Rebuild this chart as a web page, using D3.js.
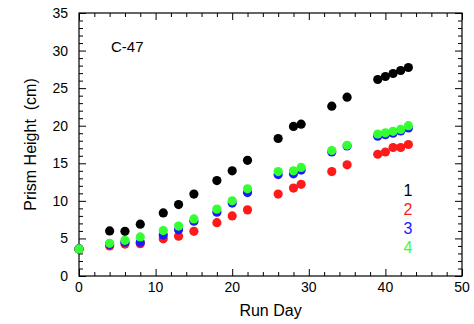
<!DOCTYPE html>
<html>
<head>
<meta charset="utf-8">
<script src="https://cdn.jsdelivr.net/npm/d3@7"></script>
<style>
  html, body { margin: 0; padding: 0; background: #fff; }
  svg { display: block; font-family: "Liberation Sans", Arial, sans-serif; }
</style>
</head>
<body>
<svg id="chart" width="474" height="324"></svg>
<script>
// Run days on which prism height was measured
const runDays = [0, 4, 6, 8, 11, 13, 15, 18, 20, 22, 26, 28, 29, 33, 35, 39, 40, 41, 42, 43];

// Prism height (cm) for prisms 1-4
const prism1 = [3.6, 6.0, 5.95, 6.9, 8.4, 9.5, 10.9, 12.7, 14.0, 15.4, 18.3, 19.9, 20.2, 22.6, 23.8, 26.15, 26.55, 26.95, 27.35, 27.75];
const prism2 = [3.6, 4.0, 4.25, 4.3, 4.95, 5.3, 5.95, 7.1, 8.0, 8.8, 10.9, 11.7, 12.2, 13.9, 14.8, 16.2, 16.5, 17.1, 17.1, 17.5];
const prism3 = [3.6, 4.2, 4.5, 4.5, 5.45, 6.15, 7.3, 8.5, 9.7, 11.1, 13.5, 13.6, 14.1, 16.5, 17.3, 18.6, 18.8, 19.0, 19.3, 19.7];
const prism4 = [3.6, 4.35, 4.75, 5.2, 6.05, 6.65, 7.6, 8.9, 10.0, 11.6, 13.9, 14.0, 14.45, 16.7, 17.4, 18.9, 19.05, 19.25, 19.5, 20.0];

const seriesNames = ["1", "2", "3", "4"];
const seriesColors = ["#000000", "#ff1a1a", "#1a1aff", "#33ff33"];
const seriesValues = [prism1, prism2, prism3, prism4];

const xTicks = [0, 10, 20, 30, 40, 50];
const yTicks = [0, 5, 10, 15, 20, 25, 30, 35];

const svg = d3.select("#chart");
const plotLeft = 79, plotRight = 462, plotTop = 13, plotBottom = 276;

const x = d3.scaleLinear().domain([0, 50]).range([plotLeft, plotRight]);
const y = d3.scaleLinear().domain([0, 35]).range([plotBottom, plotTop]);

const xMinor = d3.range(0, 51, 2);
const yMinor = d3.range(0, 36, 1);

// Inward ticks on all four sides of the frame
function tickAxis(axisFn, scale, minorVals, majorVals, translate) {
  const gMinor = svg.append("g").attr("transform", translate)
    .call(axisFn(scale).tickValues(minorVals.filter(v => !majorVals.includes(v))).tickSize(-4).tickFormat(""));
  const gMajor = svg.append("g").attr("transform", translate)
    .call(axisFn(scale).tickValues(majorVals).tickSize(-7).tickFormat(""));
  [gMinor, gMajor].forEach(g => {
    g.select(".domain").remove();
    g.selectAll("line").attr("stroke", "#000").attr("stroke-width", 1);
  });
}

tickAxis(d3.axisBottom, x, xMinor, xTicks, `translate(0,${plotBottom})`);
tickAxis(d3.axisTop, x, xMinor, xTicks, `translate(0,${plotTop})`);
tickAxis(d3.axisLeft, y, yMinor, yTicks, `translate(${plotLeft},0)`);
tickAxis(d3.axisRight, y, yMinor, yTicks, `translate(${plotRight},0)`);

// Frame
svg.append("rect")
  .attr("x", plotLeft).attr("y", plotTop)
  .attr("width", plotRight - plotLeft).attr("height", plotBottom - plotTop)
  .attr("fill", "none").attr("stroke", "#000").attr("stroke-width", 1.2);

// Tick labels
svg.append("g").selectAll("text").data(xTicks).join("text")
  .attr("x", d => x(d)).attr("y", plotBottom + 16)
  .attr("text-anchor", "middle").attr("font-size", 14).attr("fill", "#000")
  .text(d => d);

svg.append("g").selectAll("text").data(yTicks).join("text")
  .attr("x", plotLeft - 11).attr("y", d => y(d) + 5)
  .attr("text-anchor", "end").attr("font-size", 14).attr("fill", "#000")
  .text(d => d);

// Axis titles
svg.append("text")
  .attr("x", (plotLeft + plotRight) / 2).attr("y", 316)
  .attr("text-anchor", "middle").attr("font-size", 16).attr("fill", "#000")
  .text("Run Day");

svg.append("text")
  .attr("transform", `translate(36,${(plotTop + plotBottom) / 2}) rotate(-90)`)
  .attr("text-anchor", "middle").attr("font-size", 16).attr("fill", "#000")
  .style("white-space", "pre")
  .text("Prism Height  (cm)");

// Sample label
svg.append("text")
  .attr("x", 111).attr("y", 52)
  .attr("font-size", 15).attr("fill", "#000")
  .text("C-47");

// Data points, prism 1 drawn first and prism 4 last
seriesValues.forEach((vals, i) => {
  svg.append("g").selectAll("circle").data(runDays.map((d, j) => [d, vals[j]])).join("circle")
    .attr("cx", d => x(d[0])).attr("cy", d => y(d[1]))
    .attr("r", 4.6).attr("fill", seriesColors[i]);
});

// Legend
svg.append("g").selectAll("text").data(seriesNames).join("text")
  .attr("x", 408).attr("y", (d, i) => 196 + i * 19)
  .attr("text-anchor", "middle").attr("font-size", 16)
  .attr("fill", (d, i) => seriesColors[i])
  .text(d => d);
</script>
</body>
</html>
